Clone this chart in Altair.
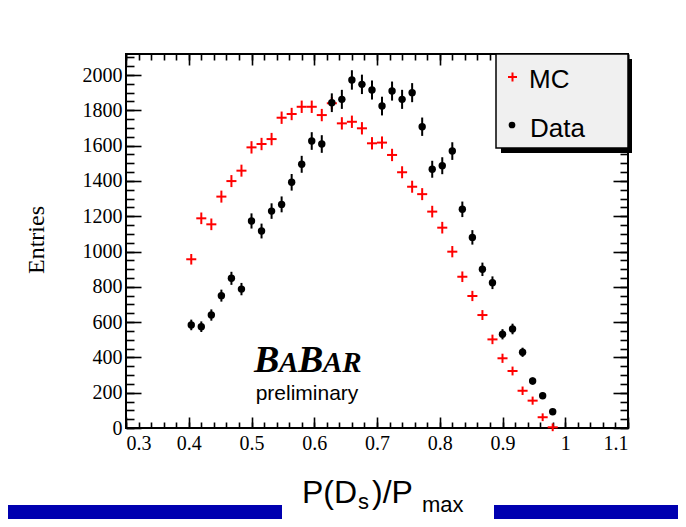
import altair as alt
import pandas as pd

# ---- data ----
x_centers = [0.404, 0.420, 0.436, 0.452, 0.468, 0.484, 0.500, 0.516, 0.532, 0.548,
             0.564, 0.580, 0.596, 0.612, 0.628, 0.644, 0.660, 0.676, 0.692, 0.708,
             0.724, 0.740, 0.756, 0.772, 0.788, 0.804, 0.820, 0.836, 0.852, 0.868,
             0.884, 0.900, 0.916, 0.932, 0.948, 0.964, 0.980]
mc_vals = [956, 1188, 1154, 1311, 1399, 1458, 1590, 1609, 1637, 1758,
           1779, 1820, 1820, 1773, 1840, 1726, 1735, 1698, 1613, 1617,
           1547, 1449, 1367, 1325, 1226, 1135, 999, 857, 748, 640,
           502, 395, 323, 211, 155, 61, 4]
mc_err = [30, 33, 33, 34, 34, 34, 35, 35, 35, 35,
          35, 35, 35, 35, 35, 35, 35, 35, 35, 35,
          35, 34, 34, 34, 33, 33, 32, 30, 29, 28,
          27, 26, 25, 24, 23, 22, 22]
data_vals = [584, 574, 640, 750, 848, 787, 1173, 1116, 1229, 1267,
             1392, 1494, 1626, 1609, 1843, 1862, 1972, 1947, 1915, 1824,
             1909, 1862, 1900, 1707, 1466, 1486, 1569, 1239, 1080, 899,
             823, 531, 561, 429, 266, 183, 92]
data_err = [30, 30, 32, 34, 37, 35, 43, 42, 44, 45,
            47, 48, 50, 50, 53, 54, 55, 55, 54, 53,
            54, 54, 54, 52, 48, 48, 50, 44, 41, 38,
            36, 29, 30, 26, 20, 17, 12]

x_major = [0.3, 0.4, 0.5, 0.6, 0.7, 0.8, 0.9, 1.0, 1.1]
x_minor = [round(0.3 + 0.02 * i, 2) for i in range(41)]
y_major = list(range(0, 2001, 200))
y_minor = list(range(0, 2101, 50))

df = pd.DataFrame({"x": x_centers, "mc": mc_vals, "mc_err": mc_err,
                   "data": data_vals, "data_err": data_err})
one = pd.DataFrame({"a": [0]})

XS = alt.Scale(domain=[0.3, 1.1], nice=False, zero=False)
YS = alt.Scale(domain=[0, 2119], nice=False, zero=False)

SERIF = "Liberation Serif"
SANS = "Liberation Sans"
TW = 1.6


def ax(orient, size, values, labels=False, **kw):
    return alt.Axis(orient=orient, offset=-size, tickSize=size, tickWidth=TW,
                    tickColor="black", values=values, domain=False, grid=False,
                    labels=labels, **kw)


lab = dict(labelFont=SERIF, labelFontSize=20, labelColor="black")

base = alt.Chart(df)

# MC crosses (horizontal = bin width, vertical = error)
mc_h = base.transform_calculate(
    xlo="datum.x - 0.008", xhi="datum.x + 0.008"
).mark_rule(color="#ff0000", strokeWidth=2).encode(
    x=alt.X("xlo:Q", scale=XS, title=None,
            axis=ax("bottom", 11, x_major, labels=True, labelPadding=5, format="~g", **lab)),
    x2="xhi:Q",
    y=alt.Y("mc:Q", scale=YS, title=None,
            axis=ax("left", 15, y_major, labels=True, labelPadding=4, format="d", **lab)),
)
mc_v = base.transform_calculate(
    ylo="datum.mc - datum.mc_err", yhi="datum.mc + datum.mc_err"
).mark_rule(color="#ff0000", strokeWidth=2).encode(
    x=alt.X("x:Q", scale=XS, title=None, axis=ax("bottom", 6, x_minor)),
    y=alt.Y("ylo:Q", scale=YS, title=None, axis=ax("left", 8, y_minor)),
    y2="yhi:Q",
)
# Data points with error bars
d_err = base.transform_calculate(
    ylo="datum.data - datum.data_err", yhi="datum.data + datum.data_err"
).mark_rule(color="black", strokeWidth=2).encode(
    x=alt.X("x:Q", scale=XS, title=None, axis=ax("top", 11, x_major)),
    y=alt.Y("ylo:Q", scale=YS, title=None, axis=ax("right", 15, y_major)),
    y2="yhi:Q",
)
d_pts = base.mark_circle(size=55, color="black", opacity=1).encode(
    x=alt.X("x:Q", scale=XS, title=None, axis=ax("top", 6, x_minor)),
    y=alt.Y("data:Q", scale=YS, title=None, axis=ax("right", 8, y_minor)),
)

c1 = alt.Chart(one)

# legend box
shadow = c1.mark_rect(color="black").encode(
    x=alt.value(375), x2=alt.value(506), y=alt.value(5), y2=alt.value(99))
box = c1.mark_rect(fill="#f0f0f0", stroke="black", strokeWidth=1.5).encode(
    x=alt.value(370), x2=alt.value(502), y=alt.value(0), y2=alt.value(94))
leg_h = c1.mark_rule(color="#ff0000", strokeWidth=2).encode(
    x=alt.value(382), x2=alt.value(391), y=alt.value(23))
leg_v = c1.mark_rule(color="#ff0000", strokeWidth=2).encode(
    x=alt.value(386.5), y=alt.value(18.5), y2=alt.value(27.5))
leg_dot = c1.mark_circle(size=45, color="black", opacity=1).encode(
    x=alt.value(386), y=alt.value(71))
leg_mc = c1.mark_text(text="MC", font=SANS, fontSize=26, align="left",
                      baseline="alphabetic", color="black").encode(
    x=alt.value(403), y=alt.value(34))
leg_data = c1.mark_text(text="Data", font=SANS, fontSize=26, align="left",
                        baseline="alphabetic", color="black").encode(
    x=alt.value(404), y=alt.value(83))


# BaBar logo
def logo(t, x, size):
    return c1.mark_text(text=t, font=SERIF, fontSize=size, fontStyle="italic",
                        fontWeight="bold", align="left", baseline="alphabetic",
                        color="black").encode(x=alt.value(x), y=alt.value(318))


b1 = logo("B", 128, 38)
a1 = logo("A", 153, 29)
b2 = logo("B", 172, 38)
ar = logo("AR", 197, 29)
prelim = c1.mark_text(text="preliminary", font=SANS, fontSize=21, align="center",
                      baseline="alphabetic", color="black").encode(
    x=alt.value(181), y=alt.value(346))

# axis titles
ytitle = c1.mark_text(text="Entries", font=SERIF, fontSize=24, angle=270,
                      align="center", baseline="middle", color="black").encode(
    x=alt.value(-89), y=alt.value(186))


def tt(t, x, y, size):
    return c1.mark_text(text=t, font=SANS, fontSize=size, align="left",
                        baseline="alphabetic", color="black").encode(
        x=alt.value(x), y=alt.value(y))


t1 = tt("P(D", 176, 449, 32)
t2 = tt("s", 232, 455, 22)
t3 = tt(")/P", 246, 449, 32)
t4 = tt("max", 296, 458, 22)

# bottom blue bands of the slide
band_l = c1.mark_rect(color="#0000B0").encode(
    x=alt.value(-118), x2=alt.value(156), y=alt.value(451), y2=alt.value(465))
band_r = c1.mark_rect(color="#0000B0").encode(
    x=alt.value(368), x2=alt.value(552), y=alt.value(451), y2=alt.value(465))

chart = alt.layer(
    mc_h, mc_v, d_err, d_pts,
    shadow, box, leg_h, leg_v, leg_dot, leg_mc, leg_data,
    b1, a1, b2, ar, prelim, ytitle, t1, t2, t3, t4, band_l, band_r,
).resolve_axis(
    x="independent", y="independent"
).properties(
    width=502, height=374,
    padding={"left": 118, "top": 46, "right": 50, "bottom": 91},
    autosize=alt.AutoSizeParams(type="none"),
    background="white",
).configure_view(
    stroke="black", strokeWidth=2
)

chart.save("out.html", embed_options={"renderer": "svg", "actions": False})
